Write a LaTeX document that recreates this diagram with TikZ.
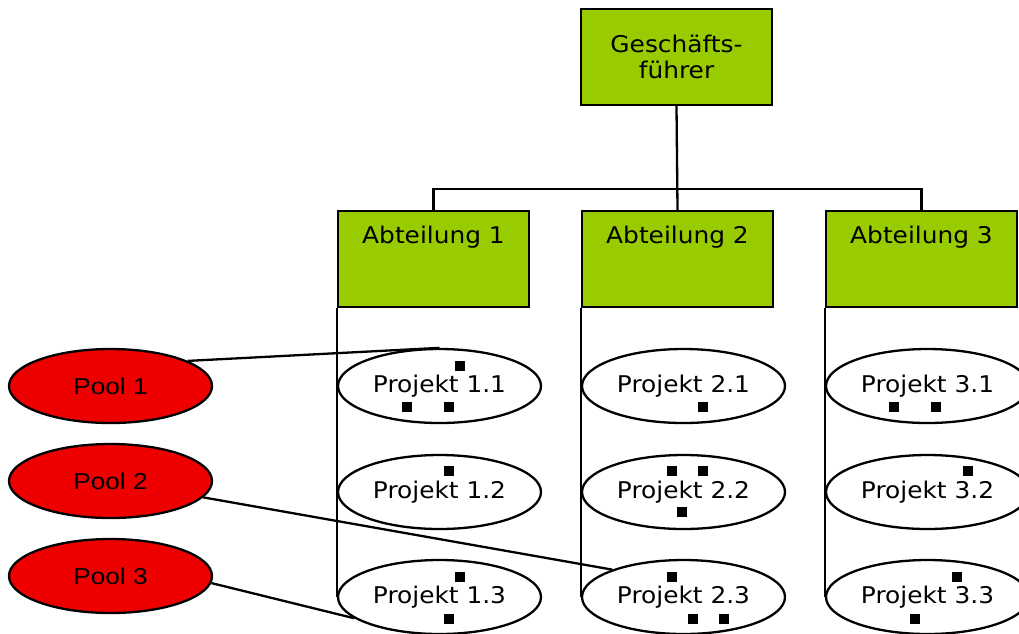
\documentclass[tikz,border=0pt]{standalone}
\usepackage{fontspec}
\setmainfont{DejaVu Sans}[FakeStretch=1.08]
\newfontfamily\poolfont{Liberation Sans}[FakeStretch=1.14]
\usetikzlibrary{shapes.geometric}
\definecolor{boxgreen}{RGB}{153,204,0}
\definecolor{poolred}{RGB}{238,0,0}
\begin{document}
\begin{tikzpicture}[x=1pt,y=-1pt, line width=2.3pt,
  txt/.style={font=\fontsize{23}{26}\selectfont},
  chief/.style={txt, draw, fill=boxgreen, minimum width=191pt, minimum height=96pt, inner sep=0pt, align=center},
  dept/.style={txt, draw, fill=boxgreen, minimum width=191pt, inner sep=0pt, text height=32pt, text depth=64pt},
  proj/.style={txt, draw, fill=white, ellipse, minimum width=203pt, minimum height=74pt, inner sep=0pt},
  pool/.style={draw, fill=poolred, ellipse, minimum width=203pt, minimum height=74pt, inner sep=0pt,
    font=\poolfont\fontsize{23}{26}\selectfont},
  sq/.style={fill=black, draw=none, minimum size=9.5pt, inner sep=0pt}]
\useasboundingbox (0,0) rectangle (1019,633);

% management and departments
\node[chief] (gf) at (676.5,57) {Geschäfts-\\führer};
\node[dept] (abt1) at (433.5,259) {Abteilung 1};
\node[dept] (abt2) at (677.5,259) {Abteilung 2};
\node[dept] (abt3) at (921.5,259) {Abteilung 3};

\draw (gf.south) -- (abt2.north);
\draw (abt1.north) -- ++(0,-21) -| (abt3.north);

% projects
\node[proj] (p11) at (439.5,386) {Projekt 1.1};
\node[proj] (p12) at (439.5,492) {Projekt 1.2};
\node[proj] (p13) at (439.5,597) {Projekt 1.3};
\node[proj] (p21) at (683.5,386) {Projekt 2.1};
\node[proj] (p22) at (683.5,492) {Projekt 2.2};
\node[proj] (p23) at (683.5,597) {Projekt 2.3};
\node[proj] (p31) at (927.5,386) {Projekt 3.1};
\node[proj] (p32) at (927.5,492) {Projekt 3.2};
\node[proj] (p33) at (927.5,597) {Projekt 3.3};

\draw (abt1.south west) -- (p13.west);
\draw (abt2.south west) -- (p23.west);
\draw (abt3.south west) -- (p33.west);

% resource pools
\node[pool] (pool1) at (110.5,386) {Pool 1};
\node[pool] (pool2) at (110.5,481) {Pool 2};
\node[pool] (pool3) at (110.5,576) {Pool 3};

\draw (pool1.18) -- (p11.north);
\draw (pool2.-10) -- (p23.159);
\draw (pool3.-4) -- (p13.194);

% staff markers
\node[sq] (m11a) at (460,366) {};
\node[sq] (m11b) at (407,407) {};
\node[sq] (m11c) at (449,407) {};
\node[sq] (m12a) at (449,471) {};
\node[sq] (m13a) at (460,577) {};
\node[sq] (m13b) at (449,619) {};
\node[sq] (m21a) at (703,407) {};
\node[sq] (m22a) at (672,471) {};
\node[sq] (m22b) at (703,471) {};
\node[sq] (m22c) at (682,512) {};
\node[sq] (m23a) at (672,577) {};
\node[sq] (m23b) at (693,619) {};
\node[sq] (m23c) at (724,619) {};
\node[sq] (m31a) at (894,407) {};
\node[sq] (m31b) at (936,407) {};
\node[sq] (m32a) at (968,471) {};
\node[sq] (m33a) at (957,577) {};
\node[sq] (m33b) at (915,619) {};
\end{tikzpicture}
\end{document}
